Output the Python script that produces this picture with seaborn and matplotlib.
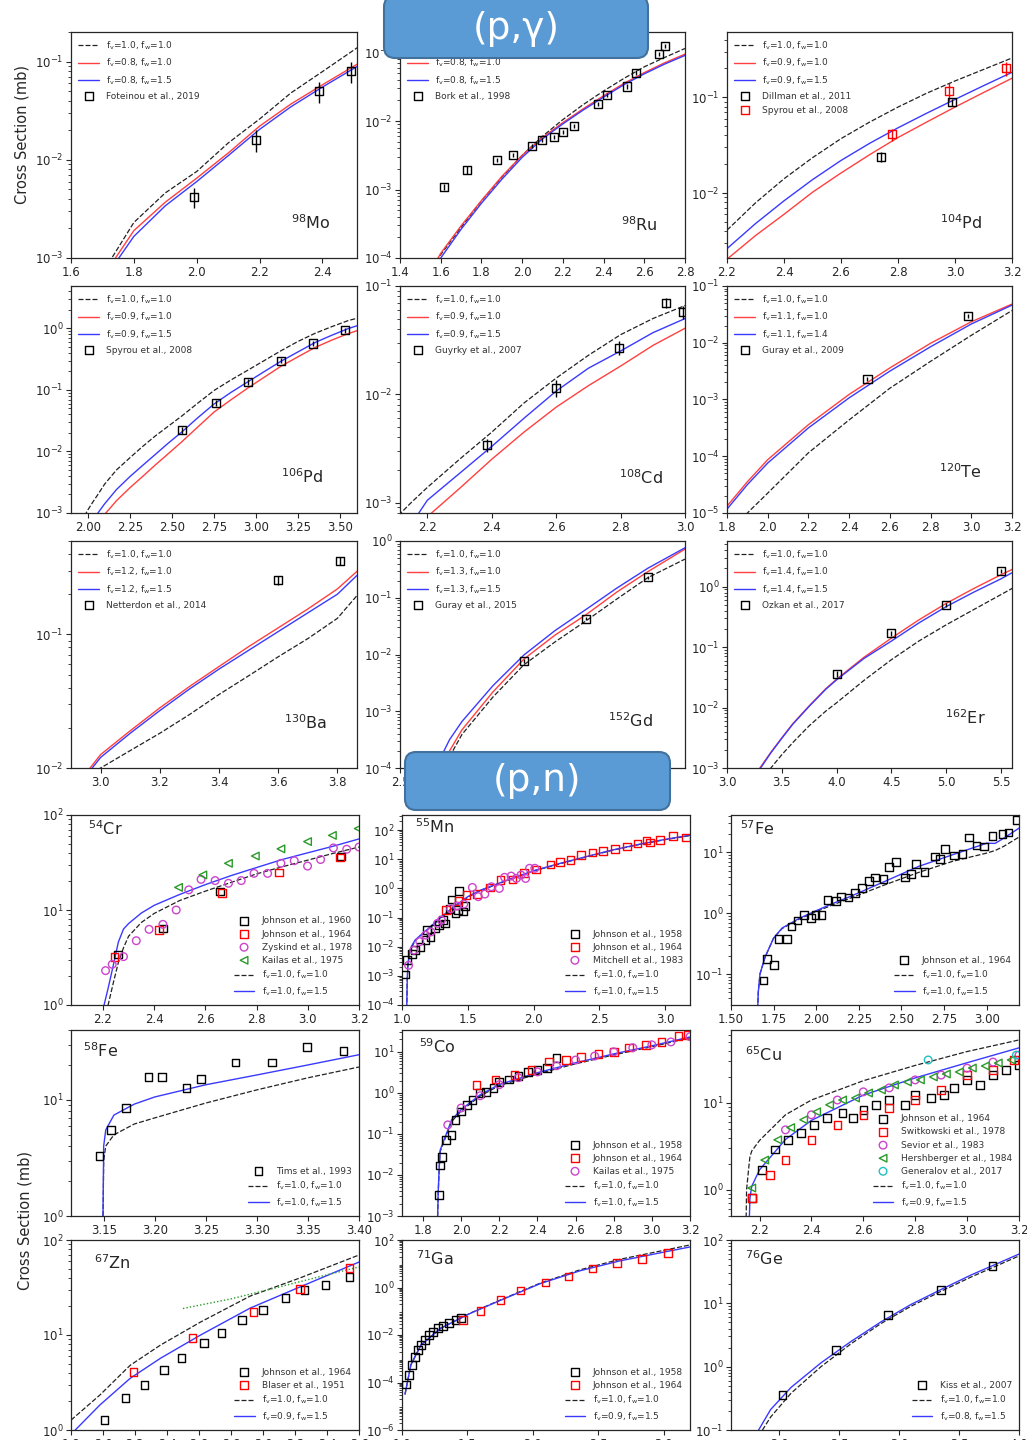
import matplotlib
matplotlib.use("Agg")
import matplotlib.pyplot as plt
import matplotlib.ticker as mticker
from matplotlib.patches import FancyBboxPatch
from matplotlib.transforms import IdentityTransform
import seaborn as sns

sns.set_style("ticks")
plt.rcParams["font.family"] = ["DejaVu Sans"]
plt.rcParams["mathtext.default"] = "regular"
plt.rcParams["xtick.labelsize"] = 8.5
plt.rcParams["ytick.labelsize"] = 8.5

# ----------------------------------------------------------------------------
# (p,gamma) data  [energies in MeV, cross sections in mb]
# ----------------------------------------------------------------------------
mo98_E = [1.72, 1.80, 1.90, 2.00, 2.10, 2.20, 2.30, 2.40, 2.52]
mo98_std = [8.9e-4, 2.3e-3, 4.6e-3, 7.6e-3, 1.48e-2, 2.6e-2, 4.8e-2, 7.9e-2, 1.45e-1]
mo98_red = [7.9e-4, 1.9e-3, 3.7e-3, 6.5e-3, 1.17e-2, 2.2e-2, 3.7e-2, 5.8e-2, 9.8e-2]
mo98_blue = [7.1e-4, 1.66e-3, 3.4e-3, 6.0e-3, 1.1e-2, 2.04e-2, 3.47e-2, 5.5e-2, 9.3e-2]
mo98_exp_E = [1.99, 2.19, 2.39, 2.49]
mo98_exp_cs = [4.2e-3, 1.6e-2, 5.0e-2, 8.0e-2]
mo98_exp_err = [1.0e-3, 4.0e-3, 1.2e-2, 2.0e-2]

ru98_E = [1.58, 1.6, 1.7, 1.8, 1.9, 2.0, 2.1, 2.2, 2.3, 2.4, 2.5, 2.6, 2.7, 2.8]
ru98_std = [8.8e-5, 1.12e-4, 2.8e-4, 6.8e-4, 1.51e-3, 3.16e-3, 6.0e-3, 1.05e-2, 1.74e-2, 2.75e-2, 4.2e-2, 6.2e-2, 8.5e-2, 1.15e-1]
ru98_red = [9.2e-5, 1.17e-4, 2.95e-4, 6.9e-4, 1.55e-3, 3.16e-3, 5.75e-3, 9.5e-3, 1.51e-2, 2.34e-2, 3.55e-2, 5.1e-2, 7.1e-2, 9.5e-2]
ru98_blue = [8.0e-5, 1.0e-4, 2.63e-4, 6.3e-4, 1.41e-3, 2.95e-3, 5.5e-3, 9.1e-3, 1.45e-2, 2.24e-2, 3.4e-2, 4.9e-2, 6.8e-2, 9.1e-2]
ru98_exp_E = [1.618, 1.727, 1.875, 1.957, 2.048, 2.096, 2.158, 2.20, 2.256, 2.371, 2.415, 2.513, 2.559, 2.672, 2.702]
ru98_exp_cs = [1.09e-3, 1.95e-3, 2.7e-3, 3.2e-3, 4.3e-3, 5.3e-3, 5.9e-3, 6.9e-3, 8.4e-3, 1.77e-2, 2.4e-2, 3.2e-2, 5.1e-2, 9.5e-2, 1.24e-1]
ru98_exp_err = [1e-4, 2.5e-4, 2e-4, 2.5e-4, 3e-4, 4e-4, 4e-4, 5e-4, 6e-4, 1.3e-3, 1.8e-3, 2.4e-3, 3.8e-3, 7e-3, 9e-3]

pd104_E = [2.2, 2.3, 2.4, 2.5, 2.6, 2.7, 2.8, 2.9, 3.0, 3.1, 3.2]
pd104_std = [4.1e-3, 7.9e-3, 1.41e-2, 2.34e-2, 3.7e-2, 5.5e-2, 7.9e-2, 0.11, 0.148, 0.195, 0.257]
pd104_red = [2.04e-3, 3.6e-3, 6.0e-3, 1.02e-2, 1.62e-2, 2.51e-2, 3.8e-2, 5.5e-2, 7.9e-2, 0.112, 0.158]
pd104_blue = [2.63e-3, 4.8e-3, 8.3e-3, 1.38e-2, 2.19e-2, 3.3e-2, 4.8e-2, 6.8e-2, 9.5e-2, 0.132, 0.182]
pd104_dil_E = [2.74, 2.99]
pd104_dil_cs = [0.024, 0.089]
pd104_dil_err = [3e-3, 8e-3]
pd104_spy_E = [2.78, 2.98, 3.18]
pd104_spy_cs = [0.041, 0.117, 0.20]
pd104_spy_err = [6e-3, 2.5e-2, 3.5e-2]

pd106_E = [1.98, 2.0, 2.03, 2.06, 2.1, 2.17, 2.25, 2.32, 2.4, 2.48, 2.56, 2.65, 2.75, 2.85,
           2.95, 3.05, 3.15, 3.25, 3.35, 3.45, 3.55, 3.62]
pd106_std = [8.9e-4, 1.12e-3, 1.51e-3, 2.0e-3, 2.95e-3, 5.0e-3, 7.9e-3, 1.17e-2, 1.78e-2, 2.6e-2, 3.8e-2,
             6.0e-2, 9.8e-2, 0.145, 0.209, 0.302, 0.437, 0.617, 0.832, 1.07, 1.35, 1.51]
pd106_red = [2.5e-4, 3.2e-4, 4.5e-4, 6.3e-4, 9.5e-4, 1.58e-3, 2.57e-3, 3.8e-3, 6.0e-3, 9.3e-3, 1.45e-2,
             2.45e-2, 4.37e-2, 6.9e-2, 0.107, 0.162, 0.245, 0.347, 0.49, 0.646, 0.83, 0.955]
pd106_blue = [4.0e-4, 5.2e-4, 7.4e-4, 1.0e-3, 1.41e-3, 2.4e-3, 3.9e-3, 5.75e-3, 8.9e-3, 1.38e-2, 2.09e-2,
              3.47e-2, 5.9e-2, 9.1e-2, 0.135, 0.2, 0.295, 0.417, 0.589, 0.776, 1.0, 1.15]
pd106_exp_E = [2.56, 2.76, 2.95, 3.15, 3.34, 3.53]
pd106_exp_cs = [0.022, 0.062, 0.136, 0.30, 0.57, 0.94]
pd106_exp_err = [3e-3, 8e-3, 1.6e-2, 3e-2, 6e-2, 9e-2]

cd108_E = [2.11, 2.15, 2.2, 2.3, 2.4, 2.5, 2.6, 2.7, 2.8, 2.9, 3.0]
cd108_std = [7.6e-4, 1.0e-3, 1.38e-3, 2.51e-3, 4.47e-3, 8.3e-3, 1.41e-2, 2.29e-2, 3.55e-2, 5.0e-2, 6.6e-2]
cd108_red = [2.8e-4, 4.5e-4, 7.4e-4, 1.35e-3, 2.51e-3, 4.47e-3, 7.6e-3, 1.2e-2, 1.82e-2, 2.82e-2, 4.07e-2]
cd108_blue = [4.0e-4, 6.3e-4, 1.05e-3, 1.86e-3, 3.3e-3, 6.0e-3, 1.07e-2, 1.74e-2, 2.51e-2, 3.7e-2, 5.0e-2]
cd108_exp_E = [2.385, 2.60, 2.795, 2.94, 2.995]
cd108_exp_cs = [3.4e-3, 1.14e-2, 2.7e-2, 7.0e-2, 5.8e-2]
cd108_exp_err = [5e-4, 2e-3, 4e-3, 8e-3, 8e-3]

te120_E = [1.78, 1.8, 1.9, 2.0, 2.2, 2.4, 2.6, 2.8, 3.0, 3.2]
te120_std = [3.2e-6, 4.0e-6, 1.0e-5, 2.24e-5, 1.15e-4, 4.37e-4, 1.58e-3, 4.7e-3, 1.35e-2, 3.7e-2]
te120_red = [1.05e-5, 1.32e-5, 3.55e-5, 8.7e-5, 3.6e-4, 1.23e-3, 3.6e-3, 9.8e-3, 2.34e-2, 4.8e-2]
te120_blue = [9.5e-6, 1.17e-5, 3.16e-5, 7.6e-5, 3.16e-4, 1.07e-3, 3.16e-3, 8.5e-3, 2.14e-2, 4.6e-2]
te120_exp_E = [2.49, 2.985]
te120_exp_cs = [2.3e-3, 2.95e-2]
te120_exp_err = [2e-4, 2e-3]

ba130_E = [2.95, 3.0, 3.1, 3.2, 3.3, 3.4, 3.5, 3.6, 3.7, 3.8, 3.87]
ba130_std = [8.5e-3, 1.0e-2, 1.35e-2, 1.82e-2, 2.51e-2, 3.55e-2, 4.9e-2, 6.8e-2, 9.3e-2, 0.132, 0.2]
ba130_red = [9.1e-3, 1.26e-2, 1.9e-2, 2.82e-2, 4.07e-2, 5.75e-2, 8.1e-2, 0.112, 0.155, 0.219, 0.302]
ba130_blue = [8.7e-3, 1.2e-2, 1.82e-2, 2.69e-2, 3.9e-2, 5.5e-2, 7.6e-2, 0.105, 0.145, 0.2, 0.282]
ba130_exp_E = [3.60, 3.81]
ba130_exp_cs = [0.254, 0.355]
ba130_exp_err = [0.02, 0.025]

gd152_E = [2.75, 2.8, 2.9, 3.0, 3.25, 3.5, 3.75, 4.0, 4.25, 4.5, 4.8]
gd152_std = [2.5e-5, 5.0e-5, 1.58e-4, 3.9e-4, 1.78e-3, 6.6e-3, 1.66e-2, 3.9e-2, 9.5e-2, 0.226, 0.48]
gd152_red = [3.2e-5, 6.3e-5, 2.0e-4, 4.7e-4, 2.19e-3, 8.3e-3, 2.19e-2, 5.0e-2, 0.126, 0.288, 0.72]
gd152_blue = [5.0e-5, 1.15e-4, 3.16e-4, 6.6e-4, 2.82e-3, 9.8e-3, 2.63e-2, 6.2e-2, 0.148, 0.331, 0.76]
gd152_exp_E = [3.5, 4.0, 4.5]
gd152_exp_cs = [7.6e-3, 4.3e-2, 0.23]
gd152_exp_err = [6e-4, 3e-3, 1.5e-2]

er162_E = [3.28, 3.3, 3.4, 3.5, 3.6, 3.75, 3.9, 4.0, 4.25, 4.5, 4.75, 5.0, 5.25, 5.5, 5.62]
er162_std = [5.0e-4, 5.6e-4, 1.0e-3, 1.66e-3, 2.63e-3, 5.0e-3, 8.7e-3, 1.2e-2, 2.82e-2, 6.2e-2,
             0.126, 0.234, 0.417, 0.741, 0.977]
er162_red = [8.9e-4, 1.0e-3, 1.82e-3, 3.16e-3, 5.4e-3, 1.07e-2, 2.04e-2, 2.95e-2, 6.8e-2, 0.141,
             0.282, 0.53, 0.93, 1.58, 2.0]
er162_blue = [8.5e-4, 9.6e-4, 1.78e-3, 3.1e-3, 5.3e-3, 1.05e-2, 2.0e-2, 2.88e-2, 6.5e-2, 0.126,
              0.251, 0.468, 0.81, 1.35, 1.78]
er162_exp_E = [4.0, 4.5, 5.0, 5.5]
er162_exp_cs = [0.036, 0.17, 0.50, 1.84]
er162_exp_err = [4e-3, 0.015, 0.04, 0.15]

# ----------------------------------------------------------------------------
# (p,n) data
# ----------------------------------------------------------------------------
cr54_E = [2.20, 2.22, 2.24, 2.26, 2.28, 2.30, 2.35, 2.40, 2.50, 2.60, 2.70, 2.80, 2.90, 3.00, 3.10, 3.20]
cr54_std = [0.6, 1.0, 1.7, 2.8, 4.0, 5.3, 7.4, 9.2, 12.6, 15.8, 19.5, 24, 28.5, 33.5, 39.5, 46]
cr54_blue = [0.9, 1.5, 2.6, 4.6, 6.3, 7.2, 9.3, 11.2, 14.6, 18.5, 23, 28, 34, 40, 47, 56]
cr54_j60_E = [2.258, 2.434, 2.658, 3.129]
cr54_j60_cs = [3.4, 6.4, 15.6, 36.5]
cr54_j64_E = [2.245, 2.418, 2.665, 2.888, 3.126]
cr54_j64_cs = [3.2, 6.2, 15.2, 24.7, 35.8]
cr54_zys_E = [2.21, 2.236, 2.28, 2.33, 2.38, 2.434, 2.486, 2.535, 2.583, 2.638, 2.69,
              2.74, 2.79, 2.843, 2.895, 2.947, 2.999, 3.05, 3.10, 3.152, 3.20]
cr54_zys_cs = [2.3, 2.68, 3.23, 4.75, 6.26, 7.06, 10, 16.3, 21, 20.4, 19.1,
               20.4, 24.3, 24.3, 31, 33, 29, 34, 45, 43.6, 46]
cr54_kai_E = [2.495, 2.59, 2.69, 2.795, 2.895, 2.999, 3.096, 3.197]
cr54_kai_cs = [17.3, 23.4, 31, 37, 44, 52.5, 61, 72]

mn55_E = [1.035, 1.04, 1.045, 1.06, 1.08, 1.10, 1.15, 1.20, 1.30, 1.40, 1.50, 1.60,
          1.80, 2.00, 2.20, 2.40, 2.60, 2.80, 3.00, 3.20]
mn55_std = [4e-5, 7e-4, 2.4e-3, 7.0e-3, 1.1e-2, 1.6e-2, 2.6e-2, 4.0e-2, 0.10, 0.235, 0.50, 0.85,
            1.88, 3.95, 7.0, 12.0, 20.3, 31.8, 47, 66]
mn55_blue = [5e-5, 8e-4, 2.6e-3, 7.6e-3, 1.2e-2, 1.7e-2, 2.7e-2, 4.2e-2, 0.106, 0.247, 0.52, 0.88,
             1.93, 4.05, 7.2, 12.3, 20.8, 32.5, 48, 68]
mn55_j58_E = [1.025, 1.038, 1.076, 1.097, 1.14, 1.178, 1.19, 1.217, 1.25, 1.28, 1.31, 1.326,
              1.36, 1.377, 1.408, 1.428, 1.433, 1.464, 1.48]
mn55_j58_cs = [1.1e-3, 3.5e-3, 5.5e-3, 7.6e-3, 1e-2, 1.7e-2, 3.7e-2, 2.2e-2, 4.2e-2, 5.5e-2, 8.1e-2, 6.3e-2,
               0.2, 0.42, 0.14, 0.18, 0.83, 0.16, 0.25]
mn55_j64_E = [1.336, 1.43, 1.49, 1.57, 1.67, 1.75, 1.84, 1.93, 2.02, 2.13, 2.2, 2.28, 2.36, 2.45,
              2.53, 2.62, 2.71, 2.79, 2.86, 2.885, 2.96, 3.06, 3.16]
mn55_j64_cs = [0.18, 0.37, 0.59, 0.64, 1.08, 1.93, 2.0, 3.45, 4.5, 6.7, 8.2, 9.4, 14, 17.2,
               19.2, 22.5, 27, 35, 43.5, 38, 46, 63, 56]
mn55_mit_E = [1.05, 1.09, 1.135, 1.18, 1.22, 1.27, 1.30, 1.37, 1.42, 1.47, 1.535, 1.58, 1.63,
              1.68, 1.74, 1.78, 1.83, 1.87, 1.905, 1.94, 1.97, 2.01]
mn55_mit_cs = [2.3e-3, 7.6e-3, 1.5e-2, 2.5e-2, 3.2e-2, 6.3e-2, 8.1e-2, 0.2, 0.25, 0.29, 1.08, 0.52, 0.64,
               1.14, 1.0, 2.4, 2.65, 2.2, 2.87, 2.2, 4.9, 4.9]

fe57_E = [1.655, 1.66, 1.67, 1.70, 1.75, 1.80, 1.90, 2.00, 2.10, 2.20, 2.40, 2.60, 2.80, 3.00, 3.05, 3.10, 3.20]
fe57_std = [0.02, 0.05, 0.1, 0.19, 0.39, 0.56, 0.8, 1.06, 1.38, 1.76, 2.9, 4.66, 7.1, 9.7, 10.7, 12.5, 18.5]
fe57_blue = [0.02, 0.05, 0.1, 0.19, 0.39, 0.57, 0.82, 1.1, 1.45, 1.88, 3.3, 5.85, 9.1, 14.1, 14.0, 17, 26]
fe57_j64_E = [1.69, 1.713, 1.754, 1.778, 1.827, 1.856, 1.89, 1.93, 1.97, 1.997, 2.03, 2.067, 2.116,
              2.146, 2.19, 2.228, 2.267, 2.31, 2.345, 2.394, 2.428, 2.467, 2.52, 2.557, 2.586, 2.635,
              2.698, 2.727, 2.756, 2.81, 2.858, 2.897, 2.94, 2.985, 3.034, 3.093, 3.128, 3.177]
fe57_j64_cs = [0.078, 0.175, 0.14, 0.38, 0.38, 0.6, 0.76, 0.94, 0.83, 0.94, 0.94, 1.66, 1.6,
               1.88, 1.8, 2.13, 2.58, 3.4, 3.86, 3.67, 5.8, 6.9, 3.86, 4.4, 6.4, 4.7,
               8.5, 7.7, 11.3, 8.8, 9.3, 17.5, 13, 12.5, 18.7, 20, 21.2, 34]

fe58_E = [3.149, 3.150, 3.152, 3.16, 3.18, 3.20, 3.25, 3.30, 3.35, 3.40]
fe58_std = [0.5, 3.0, 4.0, 5.0, 6.2, 7.0, 9.4, 12.2, 15.5, 19.2]
fe58_blue = [0.5, 4.0, 5.5, 7.4, 9.2, 10.6, 13.5, 16.4, 20, 24.5]
fe58_tims_E = [3.146, 3.157, 3.172, 3.194, 3.207, 3.231, 3.245, 3.279, 3.315, 3.349, 3.385]
fe58_tims_cs = [3.3, 5.5, 8.5, 15.8, 15.8, 12.7, 15.2, 21, 21, 28.6, 26.5]

co59_E = [1.875, 1.88, 1.885, 1.89, 1.95, 2.0, 2.1, 2.2, 2.4, 2.6, 2.8, 3.0, 3.2]
co59_std = [4.5e-4, 3.7e-3, 1.4e-2, 0.037, 0.2, 0.36, 0.84, 1.5, 2.9, 5.1, 8.4, 13.3, 22]
co59_blue = [5e-4, 4e-3, 1.5e-2, 0.04, 0.22, 0.39, 0.9, 1.6, 3.1, 5.4, 8.9, 14, 23]
co59_j58_E = [1.885, 1.89, 1.9, 1.92, 1.95, 1.97, 2.0, 2.03, 2.06, 2.1, 2.13, 2.17, 2.2, 2.25,
              2.3, 2.35, 2.4, 2.45, 2.5]
co59_j58_cs = [3.2e-3, 1.7e-2, 2.75e-2, 7.1e-2, 9.5e-2, 0.22, 0.35, 0.51, 0.68, 1.0, 1.05, 1.32, 1.86, 2.1,
               2.57, 3.24, 3.63, 4.07, 7.1]
co59_j64_E = [2.08, 2.18, 2.28, 2.37, 2.46, 2.55, 2.63, 2.72, 2.8, 2.88, 2.97, 3.05, 3.14, 3.19]
co59_j64_cs = [1.58, 2.1, 2.75, 3.63, 5.75, 6.3, 7.6, 8.9, 10, 12.6, 14.8, 17.4, 24.5, 25.7]
co59_kai_E = [1.93, 2.0, 2.1, 2.2, 2.3, 2.4, 2.5, 2.6, 2.7, 2.8, 2.9, 3.0, 3.1, 3.2]
co59_kai_cs = [0.166, 0.427, 0.85, 1.58, 2.34, 3.24, 4.57, 6.3, 7.9, 10, 12.6, 14.8, 17.4, 23.4]

cu65_E = [2.148, 2.15, 2.16, 2.163, 2.17, 2.2, 2.3, 2.4, 2.6, 2.8, 3.0, 3.2]
cu65_std = [0.4, 1.0, 2.0, 2.4, 2.8, 3.7, 7.3, 10.8, 18, 27, 39, 53]
cu65_blue = [0.1, 0.2, 0.4, 0.8, 1.1, 1.7, 3.8, 6.3, 12.3, 19.4, 29, 43]
cu65_j64_E = [2.17, 2.21, 2.26, 2.31, 2.36, 2.41, 2.46, 2.52, 2.56, 2.6, 2.65, 2.7, 2.76, 2.8,
              2.86, 2.91, 2.95, 3.0, 3.05, 3.1, 3.15, 3.2]
cu65_j64_cs = [0.81, 1.7, 2.9, 3.76, 4.5, 5.6, 6.7, 7.7, 6.7, 8.3, 9.5, 10.8, 9.5, 12.3,
               11.4, 12.3, 14.8, 18.4, 16.1, 20.9, 24, 27.4]
cu65_swi_E = [2.17, 2.24, 2.3, 2.4, 2.5, 2.6, 2.7, 2.8, 2.9, 3.0, 3.1, 3.18]
cu65_swi_cs = [0.81, 1.48, 2.2, 3.76, 5.6, 7.3, 8.8, 10.8, 14.1, 20.9, 24, 31.2]
cu65_sev_E = [2.3, 2.4, 2.5, 2.6, 2.7, 2.8, 2.9, 3.0, 3.1, 3.2]
cu65_sev_cs = [4.9, 7.3, 10.8, 13.4, 14.9, 18.4, 20.9, 25.1, 29.5, 35.5]
cu65_her_E = [2.17, 2.22, 2.27, 2.32, 2.37, 2.42, 2.47, 2.52, 2.57, 2.62, 2.67, 2.72, 2.77,
              2.82, 2.87, 2.92, 2.97, 3.02, 3.07, 3.12, 3.17]
cu65_her_cs = [1.05, 2.2, 3.76, 5.2, 6.4, 7.9, 9.5, 10.8, 11.4, 13, 14.1, 16.1, 17.4,
               18.4, 19.9, 21.5, 22.7, 25.2, 26.6, 28.8, 31.2]
cu65_gen_E = [2.85, 3.19]
cu65_gen_cs = [31.2, 35.5]

zn67_E = [1.80, 1.98, 2.17, 2.36, 2.61, 2.92, 3.23, 3.60]
zn67_std = [1.27, 2.33, 4.8, 7.85, 13.7, 25.7, 39.8, 69.5]
zn67_blue = [0.9, 1.83, 3.5, 5.7, 10, 19.2, 32, 58.6]
zn67_alt_E = [2.50, 2.80, 3.10, 3.40, 3.60]
zn67_alt = [19, 24, 32, 43, 52]
zn67_j64_E = [2.01, 2.14, 2.26, 2.38, 2.49, 2.63, 2.74, 2.87, 3.0, 3.14, 3.26, 3.39, 3.54]
zn67_j64_cs = [1.27, 2.17, 2.98, 4.28, 5.73, 8.2, 10.5, 14.4, 18.3, 24.5, 29.8, 33.6, 40.7]
zn67_bla_E = [2.19, 2.56, 2.94, 3.23, 3.54]
zn67_bla_cs = [4.1, 9.3, 17.5, 30.5, 50.7]

ga71_E = [1.023, 1.038, 1.068, 1.145, 1.297, 1.525, 1.753, 2.058, 2.362, 2.667, 2.971, 3.2]
ga71_std = [3.2e-5, 8.3e-5, 5.6e-4, 3.8e-3, 1.95e-2, 8.5e-2, 0.30, 1.55, 5.6, 15.5, 34, 62]
ga71_blue = [3.2e-5, 8.3e-5, 5.6e-4, 3.8e-3, 1.95e-2, 8.3e-2, 0.29, 1.47, 5.1, 13.3, 28.7, 51]
ga71_j58_E = [1.03, 1.053, 1.076, 1.099, 1.122, 1.145, 1.175, 1.205, 1.236, 1.274, 1.312, 1.358, 1.41, 1.449]
ga71_j58_cs = [8.3e-5, 2.1e-4, 5.6e-4, 1.2e-3, 2.3e-3, 3.8e-3, 6.2e-3, 1e-2, 1.33e-2, 1.95e-2, 2.37e-2,
               3.16e-2, 4.2e-2, 5.1e-2]
ga71_j64_E = [1.464, 1.6, 1.753, 1.906, 2.096, 2.271, 2.454, 2.644, 2.834, 3.032]
ga71_j64_cs = [0.042, 0.1, 0.29, 0.75, 1.62, 2.9, 6.2, 11, 16.2, 28.8]

ge76_E = [1.83, 1.93, 2.10, 2.35, 2.60, 2.85, 3.10, 3.35, 3.60, 3.85, 4.0]
ge76_std = [0.08, 0.16, 0.38, 1.0, 2.3, 4.8, 9.0, 15.5, 26, 42, 56]
ge76_blue = [0.1, 0.21, 0.47, 1.15, 2.5, 5.1, 9.6, 16.5, 28, 45, 60]
ge76_kiss_E = [2.03, 2.475, 2.91, 3.35, 3.78]
ge76_kiss_cs = [0.36, 1.85, 6.6, 16.3, 39]

# ----------------------------------------------------------------------------
# drawing helpers
# ----------------------------------------------------------------------------
W, H = 1027, 1440
STD = dict(color="#222222", linestyle=(0, (4, 1.6)), linewidth=0.9)
RED = dict(color="#ff4040", linestyle="-", linewidth=1.0)
BLUE = dict(color="#3a3aff", linestyle="-", linewidth=1.0)
GDOT = dict(color="#2a9a2a", linestyle=(0, (1, 1.5)), linewidth=1.0)
MAG = "#cc44cc"
GRN = "#2a9a2a"


def frac(x0, y0, x1, y1):
    return [x0 / W, 1 - y1 / H, (x1 - x0) / W, (y1 - y0) / H]


def lab(fv, fw):
    return r"f$_v$=%s, f$_w$=%s" % (fv, fw)


def curve(ax, E, vals, style, label):
    sns.lineplot(x=E, y=vals, ax=ax, estimator=None, sort=False, label=label, **style)


def points(ax, E, cs, color, label, marker="s", err=None, size=34):
    if err is not None:
        ax.errorbar(E, cs, yerr=err, fmt="none", ecolor=color, elinewidth=1.0, capsize=0, zorder=3)
    sns.scatterplot(x=E, y=cs, ax=ax, marker=marker, s=size, facecolor="none",
                    edgecolor=color, linewidth=1.0, label=label, zorder=4, legend=False)


def finish(ax, xlim, ylim, xstep, ybase=10):
    ax.set_yscale("log")
    ax.set_xlim(*xlim)
    ax.set_ylim(*ylim)
    ax.xaxis.set_major_locator(mticker.MultipleLocator(xstep))
    ax.yaxis.set_major_locator(mticker.LogLocator(base=ybase, numticks=30))
    ax.set_xlabel("")
    ax.set_ylabel("")
    for s in ax.spines.values():
        s.set_linewidth(0.9)
    ax.tick_params(length=3.5, width=0.8, pad=2)


fig = plt.figure(figsize=(W / 100, H / 100), dpi=100)

top_cols = [(71, 357), (400, 685), (727, 1012)]
top_rows = [(32, 258), (286, 513), (541, 768)]
bot_cols = [(71, 359), (402, 690), (731, 1019)]
bot_rows = [(815, 1005), (1030, 1216), (1240, 1430)]

# ---- (p,gamma) grid ----
top_panels = [
    dict(E=mo98_E, c=[mo98_std, mo98_red, mo98_blue], f=[("1.0", "1.0"), ("0.8", "1.0"), ("0.8", "1.5")],
         exp=[(mo98_exp_E, mo98_exp_cs, mo98_exp_err, "k", "Foteinou et al., 2019")],
         xlim=(1.6, 2.51), ylim=(1e-3, 0.2), xs=0.2, name=r"$^{98}$Mo", pos=(0.84, 0.155)),
    dict(E=ru98_E, c=[ru98_std, ru98_red, ru98_blue], f=[("1.0", "1.0"), ("0.8", "1.0"), ("0.8", "1.5")],
         exp=[(ru98_exp_E, ru98_exp_cs, ru98_exp_err, "k", "Bork et al., 1998")],
         xlim=(1.4, 2.8), ylim=(1e-4, 0.2), xs=0.2, name=r"$^{98}$Ru", pos=(0.84, 0.146)),
    dict(E=pd104_E, c=[pd104_std, pd104_red, pd104_blue], f=[("1.0", "1.0"), ("0.9", "1.0"), ("0.9", "1.5")],
         exp=[(pd104_dil_E, pd104_dil_cs, pd104_dil_err, "k", "Dillman et al., 2011"),
              (pd104_spy_E, pd104_spy_cs, pd104_spy_err, "red", "Spyrou et al., 2008")],
         xlim=(2.2, 3.2), ylim=(2.1e-3, 0.48), xs=0.2, name=r"$^{104}$Pd", pos=(0.82, 0.155)),
    dict(E=pd106_E, c=[pd106_std, pd106_red, pd106_blue], f=[("1.0", "1.0"), ("0.9", "1.0"), ("0.9", "1.5")],
         exp=[(pd106_exp_E, pd106_exp_cs, pd106_exp_err, "k", "Spyrou et al., 2008")],
         xlim=(1.9, 3.6), ylim=(1e-3, 4.9), xs=0.25, name=r"$^{106}$Pd", pos=(0.81, 0.16)),
    dict(E=cd108_E, c=[cd108_std, cd108_red, cd108_blue], f=[("1.0", "1.0"), ("0.9", "1.0"), ("0.9", "1.5")],
         exp=[(cd108_exp_E, cd108_exp_cs, cd108_exp_err, "k", "Guyrky et al., 2007")],
         xlim=(2.115, 3.0), ylim=(8e-4, 0.1), xs=0.2, name=r"$^{108}$Cd", pos=(0.845, 0.155)),
    dict(E=te120_E, c=[te120_std, te120_red, te120_blue], f=[("1.0", "1.0"), ("1.1", "1.0"), ("1.1", "1.4")],
         exp=[(te120_exp_E, te120_exp_cs, te120_exp_err, "k", "Guray et al., 2009")],
         xlim=(1.8, 3.2), ylim=(1e-5, 0.1), xs=0.2, name=r"$^{120}$Te", pos=(0.82, 0.18)),
    dict(E=ba130_E, c=[ba130_std, ba130_red, ba130_blue], f=[("1.0", "1.0"), ("1.2", "1.0"), ("1.2", "1.5")],
         exp=[(ba130_exp_E, ba130_exp_cs, ba130_exp_err, "k", "Netterdon et al., 2014")],
         xlim=(2.9, 3.866), ylim=(1e-2, 0.5), xs=0.2, name=r"$^{130}$Ba", pos=(0.82, 0.2)),
    dict(E=gd152_E, c=[gd152_std, gd152_red, gd152_blue], f=[("1.0", "1.0"), ("1.3", "1.0"), ("1.3", "1.5")],
         exp=[(gd152_exp_E, gd152_exp_cs, gd152_exp_err, "k", "Guray et al., 2015")],
         xlim=(2.5, 4.8), ylim=(1e-4, 1.0), xs=0.5, name=r"$^{152}$Gd", pos=(0.81, 0.21)),
    dict(E=er162_E, c=[er162_std, er162_red, er162_blue], f=[("1.0", "1.0"), ("1.4", "1.0"), ("1.4", "1.5")],
         exp=[(er162_exp_E, er162_exp_cs, er162_exp_err, "k", "Ozkan et al., 2017")],
         xlim=(3.0, 5.6), ylim=(1e-3, 5.7), xs=0.5, name=r"$^{162}$Er", pos=(0.835, 0.22)),
]

for i, p in enumerate(top_panels):
    r, c = divmod(i, 3)
    ax = fig.add_axes(frac(top_cols[c][0], top_rows[r][0], top_cols[c][1], top_rows[r][1]))
    for vals, style, (fv, fw) in zip(p["c"], [STD, RED, BLUE], p["f"]):
        curve(ax, p["E"], vals, style, lab(fv, fw))
    for E, cs, err, col, name in p["exp"]:
        points(ax, E, cs, col, name, err=err)
    finish(ax, p["xlim"], p["ylim"], p["xs"])
    ax.legend(loc="upper left", frameon=False, fontsize=6.5, handlelength=2.3,
              labelspacing=0.55, borderaxespad=0.4, labelcolor="#333333")
    ax.text(*p["pos"], p["name"], transform=ax.transAxes, ha="center", va="center", fontsize=11.5)

# ---- (p,n) grid ----
bot_panels = [
    dict(E=cr54_E, std=cr54_std, blue=cr54_blue, fb=("1.0", "1.5"),
         exp=[(cr54_j60_E, cr54_j60_cs, "k", "s", "Johnson et al., 1960"),
              (cr54_j64_E, cr54_j64_cs, "red", "s", "Johnson et al., 1964"),
              (cr54_zys_E, cr54_zys_cs, MAG, "o", "Zyskind et al., 1978"),
              (cr54_kai_E, cr54_kai_cs, GRN, "<", "Kailas et al., 1975")],
         xlim=(2.075, 3.2), ylim=(1, 100), xs=0.2, name=r"$^{54}$Cr", pos=(0.06, 0.93)),
    dict(E=mn55_E, std=mn55_std, blue=mn55_blue, fb=("1.0", "1.5"),
         exp=[(mn55_j58_E, mn55_j58_cs, "k", "s", "Johnson et al., 1958"),
              (mn55_j64_E, mn55_j64_cs, "red", "s", "Johnson et al., 1964"),
              (mn55_mit_E, mn55_mit_cs, MAG, "o", "Mitchell et al., 1983")],
         xlim=(1.0, 3.19), ylim=(1e-4, 330), xs=0.5, name=r"$^{55}$Mn", pos=(0.045, 0.94)),
    dict(E=fe57_E, std=fe57_std, blue=fe57_blue, fb=("1.0", "1.5"),
         exp=[(fe57_j64_E, fe57_j64_cs, "k", "s", "Johnson et al., 1964")],
         xlim=(1.5, 3.19), ylim=(0.031, 41), xs=0.25, name=r"$^{57}$Fe", pos=(0.03, 0.93)),
    dict(E=fe58_E, std=fe58_std, blue=fe58_blue, fb=("1.0", "1.5"),
         exp=[(fe58_tims_E, fe58_tims_cs, "k", "s", "Tims et al., 1993")],
         xlim=(3.118, 3.40), ylim=(1, 40), xs=0.05, name=r"$^{58}$Fe", pos=(0.04, 0.89)),
    dict(E=co59_E, std=co59_std, blue=co59_blue, fb=("1.0", "1.5"),
         exp=[(co59_j58_E, co59_j58_cs, "k", "s", "Johnson et al., 1958"),
              (co59_j64_E, co59_j64_cs, "red", "s", "Johnson et al., 1964"),
              (co59_kai_E, co59_kai_cs, MAG, "o", "Kailas et al., 1975")],
         xlim=(1.69, 3.2), ylim=(1e-3, 34), xs=0.2, name=r"$^{59}$Co", pos=(0.06, 0.91)),
    dict(E=cu65_E, std=cu65_std, blue=cu65_blue, fb=("0.9", "1.5"),
         exp=[(cu65_j64_E, cu65_j64_cs, "k", "s", "Johnson et al., 1964"),
              (cu65_swi_E, cu65_swi_cs, "red", "s", "Switkowski et al., 1978"),
              (cu65_sev_E, cu65_sev_cs, MAG, "o", "Sevior et al., 1983"),
              (cu65_her_E, cu65_her_cs, GRN, "<", "Hershberger et al., 1984"),
              (cu65_gen_E, cu65_gen_cs, "#22c0c0", "o", "Generalov et al., 2017")],
         xlim=(2.09, 3.2), ylim=(0.5, 69), xs=0.2, name=r"$^{65}$Cu", pos=(0.05, 0.87)),
    dict(E=zn67_E, std=zn67_std, blue=zn67_blue, fb=("0.9", "1.5"),
         exp=[(zn67_j64_E, zn67_j64_cs, "k", "s", "Johnson et al., 1964"),
              (zn67_bla_E, zn67_bla_cs, "red", "s", "Blaser et al., 1951")],
         extra=(zn67_alt_E, zn67_alt),
         xlim=(1.8, 3.6), ylim=(1, 100), xs=0.2, name=r"$^{67}$Zn", pos=(0.08, 0.88)),
    dict(E=ga71_E, std=ga71_std, blue=ga71_blue, fb=("0.9", "1.5"),
         exp=[(ga71_j58_E, ga71_j58_cs, "k", "s", "Johnson et al., 1958"),
              (ga71_j64_E, ga71_j64_cs, "red", "s", "Johnson et al., 1964")],
         xlim=(1.0, 3.2), ylim=(1e-6, 100), xs=0.5, name=r"$^{71}$Ga", pos=(0.05, 0.9), ybase=100),
    dict(E=ge76_E, std=ge76_std, blue=ge76_blue, fb=("0.8", "1.5"),
         exp=[(ge76_kiss_E, ge76_kiss_cs, "k", "s", "Kiss et al., 2007")],
         xlim=(1.6, 4.0), ylim=(0.1, 100), xs=0.5, name=r"$^{76}$Ge", pos=(0.05, 0.9)),
]

for i, p in enumerate(bot_panels):
    r, c = divmod(i, 3)
    ax = fig.add_axes(frac(bot_cols[c][0], bot_rows[r][0], bot_cols[c][1], bot_rows[r][1]))
    for E, cs, col, mk, name in p["exp"]:
        points(ax, E, cs, col, name, marker=mk, size=30)
    curve(ax, p["E"], p["std"], STD, lab("1.0", "1.0"))
    curve(ax, p["E"], p["blue"], BLUE, lab(*p["fb"]))
    if "extra" in p:
        curve(ax, p["extra"][0], p["extra"][1], GDOT, "_nolegend_")
    finish(ax, p["xlim"], p["ylim"], p["xs"], p.get("ybase", 10))
    ax.legend(loc="lower right", frameon=False, fontsize=6.5, handlelength=2.3,
              labelspacing=0.45, borderaxespad=0.4, labelcolor="#333333")
    ax.text(*p["pos"], p["name"], transform=ax.transAxes, ha="left", va="center", fontsize=11.5)

# axis titles
fig.text(22 / W, 1 - 135 / H, "Cross Section (mb)", rotation=90, ha="center", va="center", fontsize=10.5)
fig.text(25 / W, 1 - 1220 / H, "Cross Section (mb)", rotation=90, ha="center", va="center", fontsize=10.5)

# reaction banners
for (x0, y0, x1, y1, txt) in [(384, -4, 648, 58, "(p,\u03b3)"), (405, 752, 670, 810, "(p,n)")]:
    fig.add_artist(FancyBboxPatch((x0, H - y1), x1 - x0, y1 - y0,
                                  boxstyle="round,pad=0,rounding_size=11",
                                  transform=IdentityTransform(), facecolor="#5b9bd5",
                                  edgecolor="#41719c", linewidth=1.5, zorder=10))
    fig.text((x0 + x1) / 2 / W, 1 - (max(y0, 0) + y1) / 2 / H, txt, color="white",
             fontsize=27, ha="center", va="center", zorder=11)

fig.savefig("out.png", dpi=100)
